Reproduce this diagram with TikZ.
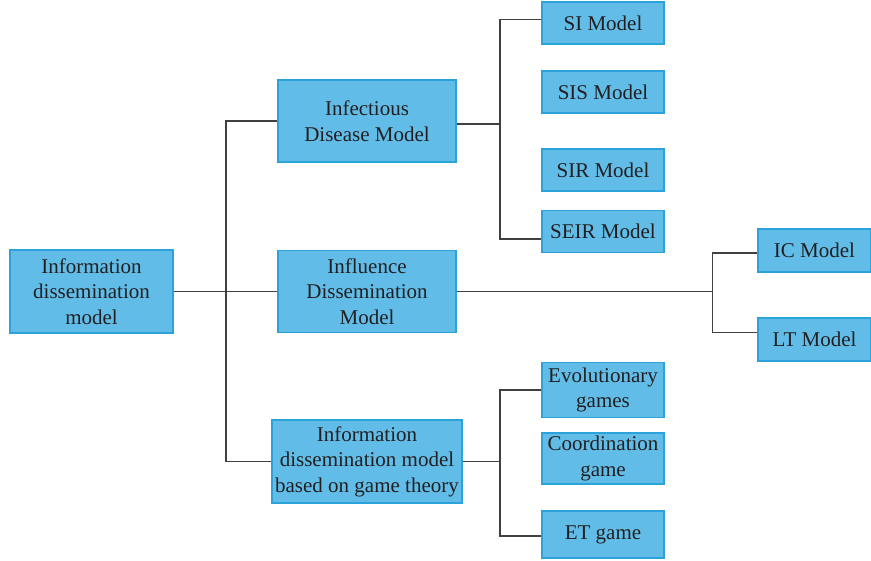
\documentclass[tikz,border=0pt]{standalone}
\usepackage{fontspec}
\setmainfont{Liberation Serif}
\usetikzlibrary{positioning}
\definecolor{boxfill}{HTML}{61BDE8}
\definecolor{boxline}{HTML}{2BA3DA}
\definecolor{txtgray}{HTML}{231F20}
\tikzset{
  box/.style={draw=boxline, fill=boxfill, line width=1.2pt, text=txtgray, align=center, inner sep=0pt,
    font=\fontsize{21}{25.5}\selectfont},
  leaf/.style={box, minimum width=122pt},
  link/.style={draw=black!75, line width=1.4pt}
}
\begin{document}
\begin{tikzpicture}[x=1pt,y=-1pt]
  \useasboundingbox (0,0) rectangle (871,561);
  % root and middle level
  \node[box, minimum width=163pt, minimum height=83pt] (info) at (91.5,291.5) {Information\\dissemination\\model};
  \node[box, minimum width=178pt, minimum height=82pt] (infect) at (367,121) {Infectious\\Disease Model};
  \node[box, minimum width=178pt, minimum height=82pt] (influ) at (367,291.5) {Influence\\Dissemination\\Model};
  \node[box, minimum width=190pt, minimum height=83pt] (game) at (367,461.5) {Information\\dissemination model\\based on game theory};
  % leaves
  \node[leaf, minimum height=42pt] (si) at (603,23) {SI Model};
  \node[leaf, minimum height=42pt] (sis) at (603,92) {SIS Model};
  \node[leaf, minimum height=42pt] (sir) at (603,170) {SIR Model};
  \node[leaf, minimum height=42pt] (seir) at (603,231.5) {SEIR Model};
  \node[box, minimum width=113pt, minimum height=43pt] (ic) at (814.5,250.5) {IC Model};
  \node[box, minimum width=113pt, minimum height=43pt] (lt) at (814.5,339.5) {LT Model};
  \node[leaf, minimum height=55pt] (evo) at (603,390) {Evolutionary\\games};
  \node[leaf, minimum height=51pt] (coord) at (603,458.5) {Coordination\\game};
  \node[leaf, minimum height=47pt] (et) at (603,534.5) {ET game};
  % connectors
  \coordinate (j0) at (226,291.5);
  \coordinate (j1) at (500,124);
  \coordinate (j2) at (712.5,291.5);
  \coordinate (j3) at (500,461.5);
  \draw[link] (info.east) -- (influ.west);
  \draw[link] (infect.west) -| (j0) |- (game.west);
  \draw[link] ([yshift=-3pt]infect.east) -- (j1);
  \draw[link] ([yshift=3.5pt]si.west) -| (j1) |- ([yshift=-7.5pt]seir.west);
  \draw[link] (influ.east) -- (j2);
  \draw[link] ([yshift=-2.5pt]ic.west) -| (j2) |- ([yshift=7pt]lt.west);
  \draw[link] (game.east) -- (j3);
  \draw[link] (evo.west) -| (j3) |- ([yshift=-1.5pt]et.west);
\end{tikzpicture}
\end{document}
